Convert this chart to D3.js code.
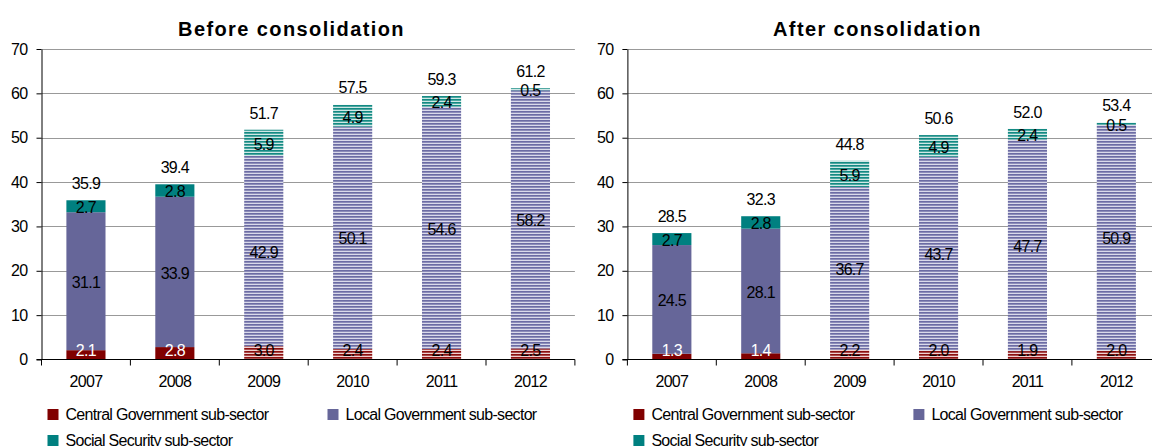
<!DOCTYPE html>
<html>
<head>
<meta charset="utf-8">
<script src="https://cdn.jsdelivr.net/npm/d3@7"></script>
<style>
  html, body { margin: 0; padding: 0; background: #fff; }
  svg { display: block; font-family: "Liberation Sans", Arial, sans-serif; }
</style>
</head>
<body>
<svg id="chart" width="1152" height="446"></svg>
<script>
// Debt by sub-sector, before and after consolidation
const years = ["2007", "2008", "2009", "2010", "2011", "2012"];
const projectedYears = ["2009", "2010", "2011", "2012"];
const seriesNames = ["Central Government sub-sector", "Local Government sub-sector", "Social Security sub-sector"];
const yTicks = [0, 10, 20, 30, 40, 50, 60, 70];

const beforeCentral = [2.1, 2.8, 3.0, 2.4, 2.4, 2.5];
const beforeLocal   = [31.1, 33.9, 42.9, 50.1, 54.6, 58.2];
const beforeSocial  = [2.7, 2.8, 5.9, 4.9, 2.4, 0.5];
const beforeTotal   = [35.9, 39.4, 51.7, 57.5, 59.3, 61.2];

const afterCentral = [1.3, 1.4, 2.2, 2.0, 1.9, 2.0];
const afterLocal   = [24.5, 28.1, 36.7, 43.7, 47.7, 50.9];
const afterSocial  = [2.7, 2.8, 5.9, 4.9, 2.4, 0.5];
const afterTotal   = [28.5, 32.3, 44.8, 50.6, 52.0, 53.4];

const colors = ["#800000", "#666699", "#008080"];
const stripeInk = ["#8c1010", "#6c6ca4", "#138a83"];
const stripeBg  = ["#efd2d2", "#dadaea", "#d0e8e6"];

const FONT = 16;
const TIGHT = -0.7;

const svg = d3.select("#chart");
const defs = svg.append("defs");

// Horizontal hatch patterns for the projected years
colors.forEach((c, i) => {
  const p = defs.append("pattern")
    .attr("id", "hatch" + i)
    .attr("patternUnits", "userSpaceOnUse")
    .attr("width", 8).attr("height", 3);
  p.append("rect").attr("width", 8).attr("height", 3).attr("fill", stripeBg[i]);
  p.append("rect").attr("y", 0).attr("width", 8).attr("height", 1.7).attr("fill", stripeInk[i]);
});

const y = d3.scaleLinear().domain([0, 70]).range([359.5, 49]);

const panels = [
  { title: "Before consolidation", left: 41.5, series: [beforeCentral, beforeLocal, beforeSocial], totals: beforeTotal },
  { title: "After consolidation",  left: 627.4, series: [afterCentral, afterLocal, afterSocial], totals: afterTotal }
];

const plotWidth = 533.4;

function textStyle(sel) {
  sel.attr("font-size", FONT)
    .attr("letter-spacing", TIGHT)
    .attr("fill", "#000")
    .attr("font-family", "Liberation Sans, Arial, sans-serif");
}

panels.forEach(panel => {
  const x = d3.scaleBand().domain(years)
    .range([panel.left, panel.left + plotWidth])
    .paddingInner(0.56).paddingOuter(0.28);
  const g = svg.append("g");

  // Title
  g.append("text")
    .attr("x", panel.left + 250)
    .attr("y", 36)
    .attr("text-anchor", "middle")
    .attr("font-size", 20)
    .attr("font-weight", "bold")
    .attr("letter-spacing", 1.4)
    .text(panel.title);

  // Gridlines
  g.append("g").selectAll("line")
    .data(yTicks.filter(t => t > 0))
    .join("line")
    .attr("x1", panel.left).attr("x2", panel.left + plotWidth)
    .attr("y1", d => Math.round(y(d)) + 0.5).attr("y2", d => Math.round(y(d)) + 0.5)
    .attr("stroke", "#999").attr("stroke-width", 1);

  // Stacked bars
  const rows = years.map((yr, i) => {
    let base = 0;
    return panel.series.map((s, k) => {
      const seg = { year: yr, k, v: s[i], y0: base, y1: base + s[i] };
      base += s[i];
      return seg;
    });
  });
  const segs = rows.flat();
  const isProj = d => projectedYears.includes(d.year);

  g.append("g").selectAll("rect")
    .data(segs)
    .join("rect")
    .attr("x", d => x(d.year))
    .attr("width", x.bandwidth())
    .attr("y", d => y(d.y1))
    .attr("height", d => y(d.y0) - y(d.y1))
    .attr("fill", d => isProj(d) ? `url(#hatch${d.k})` : colors[d.k]);

  // Axes
  const yAxis = d3.axisLeft(y).tickValues(yTicks).tickSize(5).tickPadding(9).tickSizeOuter(0);
  const ya = g.append("g").attr("transform", `translate(${panel.left},0)`).call(yAxis);
  ya.select(".domain").attr("stroke", "#000");
  ya.selectAll(".tick line").attr("stroke", "#000");
  ya.selectAll("text").call(textStyle);

  const xAxis = d3.axisBottom(x).tickSize(0).tickPadding(16);
  const xa = g.append("g").attr("transform", `translate(0,${y(0)})`).call(xAxis);
  xa.select(".domain").remove();
  xa.selectAll("text").call(textStyle);

  g.append("line")
    .attr("x1", panel.left - 5).attr("x2", panel.left + plotWidth)
    .attr("y1", y(0)).attr("y2", y(0))
    .attr("stroke", "#000");
  g.append("g").selectAll("line")
    .data(d3.range(years.length + 1))
    .join("line")
    .attr("x1", i => x.range()[0] + i * x.step())
    .attr("x2", i => x.range()[0] + i * x.step())
    .attr("y1", y(0)).attr("y2", y(0) + 6)
    .attr("stroke", "#000");

  // Segment value labels
  g.append("g").selectAll("text")
    .data(segs)
    .join("text")
    .attr("x", d => x(d.year) + x.bandwidth() / 2)
    .attr("y", d => Math.min((y(d.y0) + y(d.y1)) / 2 + 1, y(0) - 9))
    .attr("dy", "0.36em")
    .attr("text-anchor", "middle")
    .call(textStyle)
    .attr("fill", d => (!isProj(d) && d.k === 0) ? "#fff" : "#000")
    .text(d => d3.format(".1f")(d.v));

  // Totals above each bar
  g.append("g").selectAll("text")
    .data(years.map((yr, i) => ({ year: yr, v: panel.totals[i] })))
    .join("text")
    .attr("x", d => x(d.year) + x.bandwidth() / 2)
    .attr("y", d => y(d.v) - 17)
    .attr("dy", "0.36em")
    .attr("text-anchor", "middle")
    .call(textStyle)
    .text(d => d3.format(".1f")(d.v));

  // Legend
  const legendPos = [[panel.left + 6, 409], [panel.left + 286, 409], [panel.left + 6, 435]];
  const lg = g.append("g").selectAll("g")
    .data(seriesNames)
    .join("g")
    .attr("transform", (d, i) => `translate(${legendPos[i][0]},${legendPos[i][1]})`);
  lg.append("rect").attr("width", 11).attr("height", 11).attr("fill", (d, i) => colors[i]);
  lg.append("text").attr("x", 18).attr("y", 11).call(textStyle).text(d => d);
});
</script>
</body>
</html>
